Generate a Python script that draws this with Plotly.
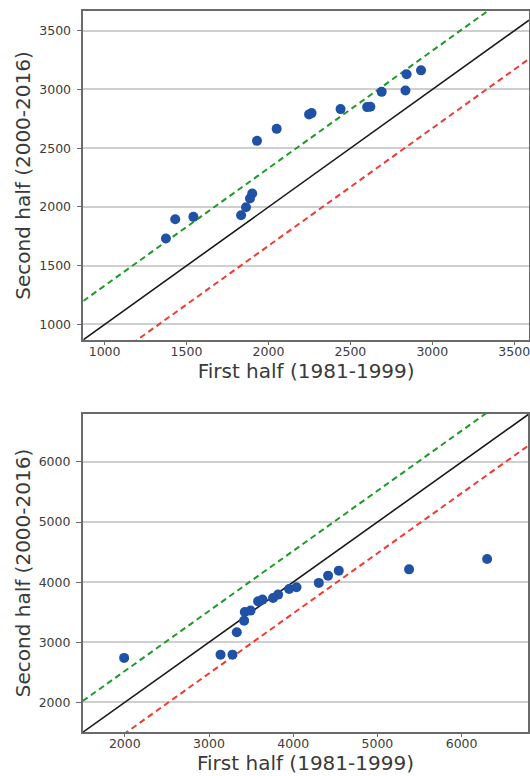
import plotly.graph_objects as go

# ---- data ----
top_first = [1374, 1431, 1542, 1833, 1863, 1887, 1901, 1930, 2050, 2248, 2263,
             2440, 2602, 2622, 2691, 2836, 2843, 2931]
top_second = [1732, 1896, 1916, 1930, 1998, 2072, 2115, 2563, 2665, 2788, 2799,
              2833, 2850, 2853, 2980, 2992, 3129, 3163]
top_diag = [870, 3590]
top_offset = 330
top_xrange = [870, 3590]
top_yrange = [868, 3668]
top_ticks = [1000, 1500, 2000, 2500, 3000, 3500]

bot_first = [1992, 3137, 3279, 3330, 3417, 3425, 3493, 3583, 3635, 3761, 3821,
             3951, 4039, 4304, 4414, 4541, 5376, 6303]
bot_second = [2739, 2793, 2793, 3165, 3359, 3504, 3526, 3680, 3709, 3737, 3792,
              3887, 3914, 3987, 4108, 4191, 4213, 4386]
bot_diag = [1500, 6795]
bot_offset = 520
bot_xrange = [1500, 6792]
bot_yrange = [1505, 6799]
bot_ticks = [2000, 3000, 4000, 5000, 6000]

x_title = "First half (1981-1999)"
y_title = "Second half (2000-2016)"

FONT = "DejaVu Sans"
DOT = "#1f52a6"
GREEN = "#1e9a2a"
RED = "#f23a32"

fig = go.Figure()


def add_panel(first, second, diag, offset, xa, ya):
    up = [v + offset for v in diag]
    dn = [v - offset for v in diag]
    fig.add_trace(go.Scatter(x=diag, y=diag, mode="lines",
                             line=dict(color="#1a1a1a", width=1.6),
                             xaxis=xa, yaxis=ya, showlegend=False))
    fig.add_trace(go.Scatter(x=diag, y=up, mode="lines",
                             line=dict(color=GREEN, width=2, dash="6px,4px"),
                             xaxis=xa, yaxis=ya, showlegend=False))
    fig.add_trace(go.Scatter(x=diag, y=dn, mode="lines",
                             line=dict(color=RED, width=2, dash="6px,4px"),
                             xaxis=xa, yaxis=ya, showlegend=False))
    fig.add_trace(go.Scatter(x=first, y=second, mode="markers",
                             marker=dict(color=DOT, size=10, line=dict(width=0)),
                             xaxis=xa, yaxis=ya, showlegend=False,
                             cliponaxis=False))


add_panel(top_first, top_second, top_diag, top_offset, "x", "y")
add_panel(bot_first, bot_second, bot_diag, bot_offset, "x2", "y2")

H = 776.0
W = 530.0

common_x = dict(showgrid=False, zeroline=False, showline=True, mirror=True,
                linecolor="#6a6a6a", linewidth=1.5, ticks="outside",
                ticklen=3, tickcolor="#6a6a6a", ticklabeloverflow="allow",
                ticklabelstandoff=-4,
                tickfont=dict(family=FONT, size=12.5, color="#3c3c3c"),
                title=dict(text=x_title, font=dict(family=FONT, size=20, color="#3a3a3a"),
                           standoff=2))
common_y = dict(showgrid=True, gridcolor="#cfcfcf", gridwidth=1.8, zeroline=False,
                showline=True, mirror=True, linecolor="#6a6a6a", linewidth=1.5,
                ticks="outside", ticklen=5, tickcolor="#6a6a6a",
                ticklabelstandoff=3,
                tickfont=dict(family=FONT, size=12.5, color="#3c3c3c"),
                title=dict(text=y_title, font=dict(family=FONT, size=20, color="#3a3a3a"),
                           standoff=3))

fig.update_layout(
    width=530, height=776,
    margin=dict(l=0, r=0, t=0, b=0),
    paper_bgcolor="white", plot_bgcolor="white",
    xaxis=dict(common_x, domain=[83.3 / W, 529 / W], range=top_xrange,
               tickvals=top_ticks, anchor="y"),
    yaxis=dict(common_y, domain=[1 - 340 / H, 1 - 11 / H], range=top_yrange,
               tickvals=top_ticks, anchor="x"),
    xaxis2=dict(common_x, domain=[82.7 / W, 528.3 / W], range=bot_xrange,
                tickvals=bot_ticks, anchor="y2"),
    yaxis2=dict(common_y, domain=[1 - 732 / H, 1 - 414 / H], range=bot_yrange,
                tickvals=bot_ticks, anchor="x2"),
)

fig.write_html(
    "out.html",
    config={"displayModeBar": False},
    post_script="document.body.style.margin='0';document.body.style.overflow='hidden';",
)
